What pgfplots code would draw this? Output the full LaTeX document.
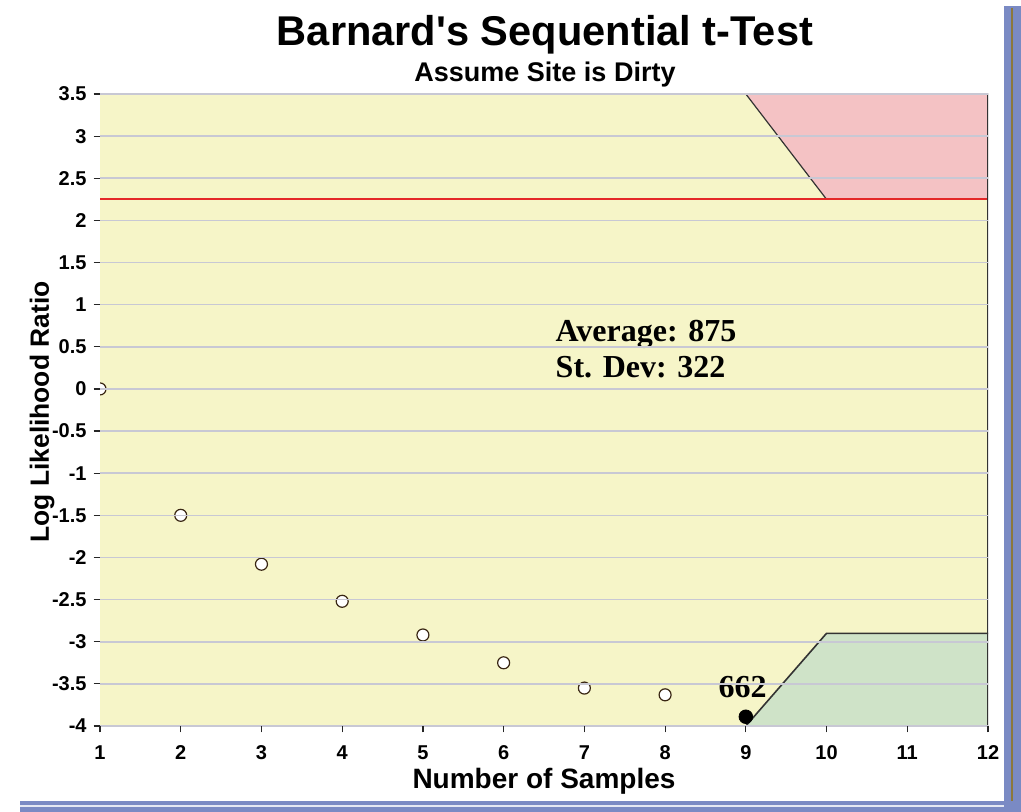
\documentclass[border=0pt]{standalone}
\usepackage{fontspec}
\setmainfont{Liberation Sans}
\newfontfamily\serifb{Liberation Serif}
\usepackage{pgfplots}
\pgfplotsset{compat=1.18}
\definecolor{bgyellow}{RGB}{246,245,200}
\definecolor{rejpink}{RGB}{244,194,196}
\definecolor{accgreen}{RGB}{207,227,200}
\definecolor{gridgray}{RGB}{200,200,212}
\definecolor{limitred}{RGB}{228,40,40}
\definecolor{frameblue}{RGB}{122,138,196}
\definecolor{frameolive}{RGB}{140,120,60}

\begin{document}
\begin{tikzpicture}[x=0.5pt,y=0.5pt]
\path[use as bounding box] (0,0) rectangle (1021,812);
% frame at right and bottom
\fill[frameblue] (1004,0) rectangle (1021,806);
\draw[frameolive,line width=1pt] (1012,0) -- (1012,804);
\fill[frameblue] (20,0) rectangle (1021,11);
\draw[white!80!frameblue,line width=0.8pt] (20,6) -- (1004,6);

\begin{axis}[
    at={(50pt,43pt)}, anchor=south west,
    scale only axis, width=444pt, height=316pt,
    xmin=1, xmax=12, ymin=-4, ymax=3.5,
    xtick={1,...,12},
    ytick={-4,-3.5,...,3.5},
    yticklabels={-4,-3.5,-3,-2.5,-2,-1.5,-1,-0.5,0,0.5,1,1.5,2,2.5,3,3.5},
    xtick pos=bottom, ytick pos=left,
    tick align=outside,
    major tick length=3.2pt,
    tick style={black!85, line width=0.6pt},
    tick label style={font=\fontsize{10}{10}\selectfont\bfseries},
    xticklabel style={yshift=-3pt},
    /pgf/number format/assume math mode=true,
    axis background/.style={fill=bgyellow},
    axis line style={draw=none},
    ymajorgrids,
    grid style={gridgray, line width=0.8pt},
    axis on top,
]
% decision regions
\addplot[fill=rejpink, draw=none] coordinates {(9,3.5) (12,3.5) (12,2.25) (10,2.25)} -- cycle;
\addplot[fill=accgreen, draw=none] coordinates {(9,-4) (10,-2.9) (12,-2.9) (12,-4)} -- cycle;
\addplot[black!80, line width=0.6pt] coordinates {(9,3.5) (10,2.25)};
\addplot[black!80, line width=0.8pt] coordinates {(9,-4) (10,-2.9) (12,-2.9)};
\addplot[limitred, line width=0.9pt] coordinates {(1,2.25) (12,2.25)};
% frame lines (top, right, bottom)
\draw[black!80, line width=0.8pt] (rel axis cs:0,1) -- (rel axis cs:1,1) -- (rel axis cs:1,0) -- (rel axis cs:0,0);
% samples
\addplot[only marks, mark=*, mark size=3pt, mark options={fill=white, draw=black!70!brown, line width=0.6pt}, clip mode=individual]
coordinates {(1,0) (2,-1.5) (3,-2.08) (4,-2.52) (5,-2.92) (6,-3.25) (7,-3.55) (8,-3.63)};
\addplot[only marks, mark=*, mark size=3.4pt, mark options={fill=black, draw=black}, clip mode=individual]
coordinates {(9,-3.89)};
\node[font=\serifb\fontsize{16}{16}\selectfont\bfseries, anchor=base] at (axis cs:8.96,-3.66) {662};
\node[font=\serifb\fontsize{16}{17}\selectfont\bfseries, anchor=north west, align=left, inner sep=0pt]
  at (axis cs:6.64,0.82) {Average: 875\\[1pt]St. Dev: 322};
\end{axis}

\node[font=\fontsize{20.8}{22}\selectfont\bfseries] at (545,777) {Barnard\textquotesingle s Sequential t-Test};
\node[font=\fontsize{13.5}{14}\selectfont\bfseries] at (545,737) {Assume Site is Dirty};
\node[font=\fontsize{14}{15}\selectfont\bfseries] at (544,31) {Number of Samples};
\node[font=\fontsize{13.2}{14}\selectfont\bfseries, rotate=90] at (42,400) {Log Likelihood Ratio};
\end{tikzpicture}
\end{document}
